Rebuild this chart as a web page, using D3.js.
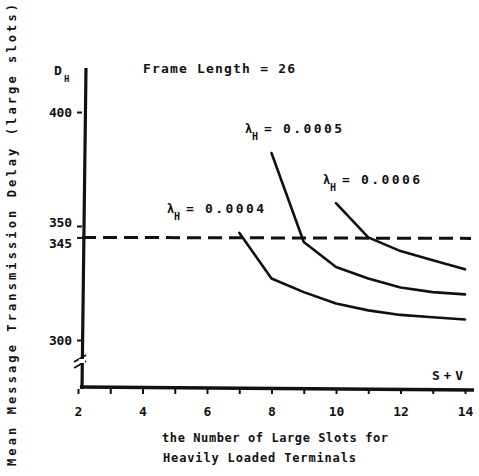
<!DOCTYPE html>
<html>
<head>
<meta charset="utf-8">
<script src="https://cdn.jsdelivr.net/npm/d3@7"></script>
<style>
  body { margin: 0; background: #fff; }
  text { font-family: "DejaVu Sans Mono", "Liberation Mono", monospace; font-weight: bold; fill: #111; }
</style>
</head>
<body>
<script>
/* values */
var slotsL4 = [7, 8, 9, 10, 11, 12, 13, 14]
var delayL4 = [347, 327, 321, 316, 313, 311, 310, 309]
var slotsL5 = [8, 9, 10, 11, 12, 13, 14]
var delayL5 = [382, 343, 332, 327, 323, 321, 320]
var slotsL6 = [10, 11, 12, 13, 14]
var delayL6 = [360, 345, 339, 335, 331]
var seriesNames = ["0.0004", "0.0005", "0.0006"]
var xTicks = [2, 3, 4, 5, 6, 7, 8, 9, 10, 11, 12, 13, 14]
var xTickLabels = [2, 4, 6, 8, 10, 12, 14]
var yTicks = [300, 345, 350, 400]
var limit = 345

var W = 479, H = 476

var x = d3.scaleLinear().domain([2, 14]).range([78, 465])
var y = d3.scaleLinear().domain([300, 400]).range([340, 112])
var axisY = 389, axisX = 82

var svg = d3.select("body").append("svg")
  .attr("width", W).attr("height", H)

// x axis ticks and labels
var xa = svg.append("g")
  .attr("transform", "translate(0," + axisY + ")")
  .call(d3.axisBottom(x).tickValues(xTicks).tickSize(5).tickPadding(13)
    .tickFormat(function(d) { return xTickLabels.indexOf(d) >= 0 ? d : "" }))
xa.select(".domain").remove()
xa.selectAll("line").attr("stroke", "#111").attr("stroke-width", 2)
xa.selectAll("text").style("font-size", "13px").style("font-family", null)

// y axis ticks and labels
var ya = svg.append("g")
  .attr("transform", "translate(" + axisX + ",0)")
  .call(d3.axisLeft(y).tickValues(yTicks).tickSize(5).tickPadding(5))
ya.select(".domain").remove()
ya.selectAll("line").attr("stroke", "#111").attr("stroke-width", 2)
ya.selectAll("text").style("font-size", "13px").style("font-family", null)
  .attr("textLength", 23)
  .attr("dy", function(d) { return d == 345 ? "0.75em" : d == 350 ? "0.05em" : "0.32em" })

// axis lines
svg.append("line").attr("x1", axisX + 4).attr("y1", 68).attr("x2", axisX).attr("y2", axisY)
  .attr("stroke", "#111").attr("stroke-width", 3.2)
svg.append("line").attr("x1", axisX - 2).attr("y1", axisY - 2).attr("x2", 474).attr("y2", axisY + 1)
  .attr("stroke", "#111").attr("stroke-width", 3.5)

// axis break marks
;[0, 6].forEach(function(o) {
  svg.append("line").attr("x1", axisX - 8).attr("y1", 362 + o).attr("x2", axisX + 4).attr("y2", 355 + o)
    .attr("stroke", "#111").attr("stroke-width", 2)
})
svg.append("rect").attr("x", axisX - 3).attr("y", 359).attr("width", 6).attr("height", 4).attr("fill", "#fff")

// dashed limit line
svg.append("line")
  .attr("x1", axisX).attr("x2", 471)
  .attr("y1", y(limit)).attr("y2", y(limit) + 1)
  .attr("stroke", "#111").attr("stroke-width", 3)
  .attr("stroke-dasharray", "14,7")

// curves
var line = d3.line().x(function(d) { return x(d[0]) }).y(function(d) { return y(d[1]) })
var series = [d3.zip(slotsL4, delayL4), d3.zip(slotsL5, delayL5), d3.zip(slotsL6, delayL6)]
svg.append("g").selectAll("path").data(series).enter().append("path")
  .attr("d", line)
  .attr("fill", "none").attr("stroke", "#111").attr("stroke-width", 2.6)
  .attr("stroke-linejoin", "round").attr("stroke-linecap", "round")

// series labels
var labelPos = [[167, 213], [245, 133], [323, 184]]
seriesNames.forEach(function(n, i) {
  var g = svg.append("g").attr("transform", "translate(" + labelPos[i][0] + "," + labelPos[i][1] + ")")
  g.append("text").attr("x", 0).attr("y", 0).style("font-size", "12px").text("\u03bb")
  g.append("text").attr("x", 7).attr("y", 7).style("font-size", "10px").text("H")
  g.append("text").attr("x", 23).attr("y", 0).style("font-size", "13px").attr("text-anchor", "middle").text("=")
  g.append("text").attr("x", 38).attr("y", 0).style("font-size", "13px")
    .attr("textLength", 59).text(n)
})

// other text
svg.append("text").attr("x", 143).attr("y", 73).style("font-size", "13px")
  .attr("textLength", 152).text("Frame Length = 26")
svg.append("text").attr("x", 54).attr("y", 75).style("font-size", "13px").text("D")
svg.append("text").attr("x", 64).attr("y", 82).style("font-size", "9px").text("H")
svg.append("text").attr("x", 432).attr("y", 380).style("font-size", "13px")
  .attr("textLength", 31).text("S + V")

svg.append("text").attr("x", 162).attr("y", 442).style("font-size", "12px")
  .attr("textLength", 226).text("the Number of Large Slots for")
svg.append("text").attr("x", 163).attr("y", 462).style("font-size", "12px")
  .attr("textLength", 193).text("Heavily Loaded Terminals")

svg.append("text")
  .attr("transform", "translate(16,466) rotate(-90)")
  .style("font-size", "12px")
  .attr("textLength", 462)
  .text("Mean Message Transmission Delay (large slots)")
</script>
</body>
</html>
